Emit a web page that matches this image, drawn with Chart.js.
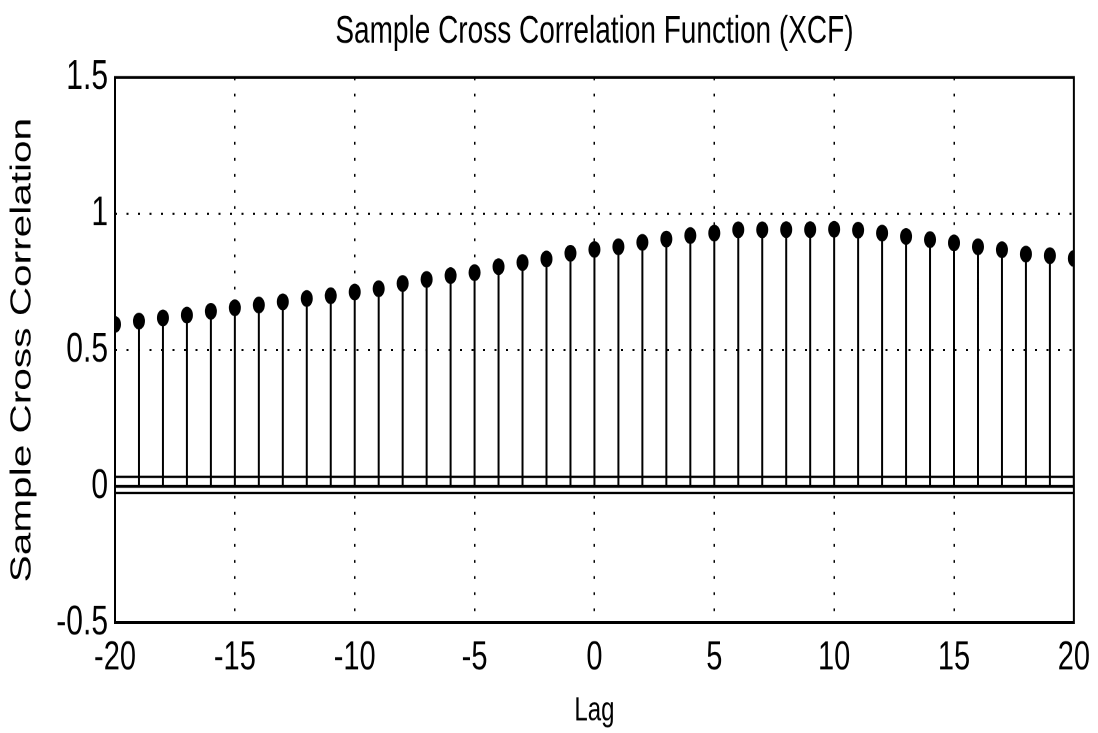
<!DOCTYPE html>
<html>
<head>
<meta charset="utf-8">
<script src="https://cdn.jsdelivr.net/npm/chart.js@4.4.1/dist/chart.umd.min.js"></script>
<style>
  html { margin: 0; padding: 0; background: #fff; overflow: hidden; }
  body { margin: 0; padding: 0; background: #fff; width: 1098px; height: 733px; }
  /* the reference is a vertically stretched figure, so draw flat and stretch */
  #wrap { width: 1098px; height: 524px; transform: scaleY(1.3989); transform-origin: 0 0; }
</style>
</head>
<body>
<div id="wrap"><canvas id="xcfChart" width="1098" height="524"></canvas></div>
<script>
const lags = [-20, -19, -18, -17, -16, -15, -14, -13, -12, -11, -10, -9, -8, -7, -6, -5, -4, -3, -2, -1,
  0, 1, 2, 3, 4, 5, 6, 7, 8, 9, 10, 11, 12, 13, 14, 15, 16, 17, 18, 19, 20];
const xcfValues = [0.594, 0.606, 0.618, 0.628, 0.642, 0.655, 0.665, 0.677, 0.689, 0.699, 0.713, 0.725,
  0.744, 0.759, 0.773, 0.784, 0.806, 0.821, 0.834, 0.855, 0.869, 0.879, 0.895, 0.907, 0.920, 0.929,
  0.941, 0.941, 0.942, 0.942, 0.943, 0.940, 0.929, 0.917, 0.905, 0.893, 0.879, 0.868, 0.852, 0.846, 0.836];
const upperBound = 0.035;
const lowerBound = -0.024;
const xTicks = [-20, -15, -10, -5, 0, 5, 10, 15, 20];
const yTicks = [-0.5, 0, 0.5, 1, 1.5];

const fontFamily = "'Liberation Sans', Arial, sans-serif";

// stems: (lag,0) -> (lag,value), separated by gaps
const stemPoints = [];
lags.forEach((lag, i) => {
  stemPoints.push({ x: lag, y: 0 });
  stemPoints.push({ x: lag, y: xcfValues[i] });
  stemPoints.push({ x: lag, y: null });
});

const hLine = (y) => [{ x: lags[0], y: y }, { x: lags[lags.length - 1], y: y }];

const boxPlugin = {
  id: "box",
  afterDraw(chart) {
    const { ctx, chartArea: a } = chart;
    ctx.save();
    ctx.strokeStyle = "#000";
    ctx.lineWidth = 2;
    ctx.strokeRect(a.left, a.top, a.right - a.left, a.bottom - a.top);
    ctx.restore();
  },
};

const ctx = document.getElementById("xcfChart").getContext("2d");
new Chart(ctx, {
  type: "line",
  data: {
    datasets: [
      {
        data: hLine(upperBound),
        borderColor: "#000",
        borderWidth: 1.6,
        pointRadius: 0,
      },
      {
        data: hLine(0),
        borderColor: "#000",
        borderWidth: 2.2,
        pointRadius: 0,
      },
      {
        data: hLine(lowerBound),
        borderColor: "#000",
        borderWidth: 1.6,
        pointRadius: 0,
      },
      {
        data: stemPoints,
        borderColor: "#000",
        borderWidth: 2,
        pointRadius: 0,
        spanGaps: false,
      },
      {
        data: lags.map((lag, i) => ({ x: lag, y: xcfValues[i] })),
        showLine: false,
        pointRadius: 6,
        pointBackgroundColor: "#000",
        pointBorderColor: "#000",
        pointBorderWidth: 0,
      },
    ],
  },
  options: {
    responsive: false,
    animation: false,
    devicePixelRatio: 2,
    layout: { padding: { left: 0, right: 20, top: 0, bottom: 0 } },
    scales: {
      x: {
        type: "linear",
        min: -20,
        max: 20,
        afterBuildTicks: (axis) => { axis.ticks = xTicks.map((v) => ({ value: v })); },
        afterFit: (scale) => { scale.height = 79; },
        ticks: {
          color: "#000",
          padding: 8,
          maxRotation: 0,
          font: { family: fontFamily, size: 29 },
          callback: (v) => String(v),
        },
        grid: { color: "#000", lineWidth: 1.5, drawTicks: false },
        border: { display: false, dash: [2, 9.5] },
        title: {
          display: true,
          text: "Lag",
          color: "#000",
          font: { family: fontFamily, size: 24 },
          padding: { top: 0, bottom: 1 },
        },
      },
      y: {
        type: "linear",
        min: -0.5,
        max: 1.5,
        afterBuildTicks: (axis) => { axis.ticks = yTicks.map((v) => ({ value: v })); },
        afterFit: (scale) => { scale.width = 115; },
        ticks: {
          color: "#000",
          padding: 7,
          font: { family: fontFamily, size: 30 },
          callback: (v) => String(v),
        },
        grid: { color: "#000", lineWidth: 1.5, drawTicks: false },
        border: { display: false, dash: [2, 9.5] },
        title: {
          display: true,
          text: "Sample Cross Correlation",
          color: "#000",
          font: { family: fontFamily, size: 29 },
          padding: { top: 5, bottom: 0 },
        },
      },
    },
    plugins: {
      legend: { display: false },
      tooltip: { enabled: false },
      title: {
        display: true,
        fullSize: false,
        text: "Sample Cross Correlation Function (XCF)",
        color: "#000",
        font: { family: fontFamily, size: 28, weight: "normal" },
        padding: { top: 6, bottom: 15.8 },
      },
    },
  },
  plugins: [boxPlugin],
});
</script>
</body>
</html>
